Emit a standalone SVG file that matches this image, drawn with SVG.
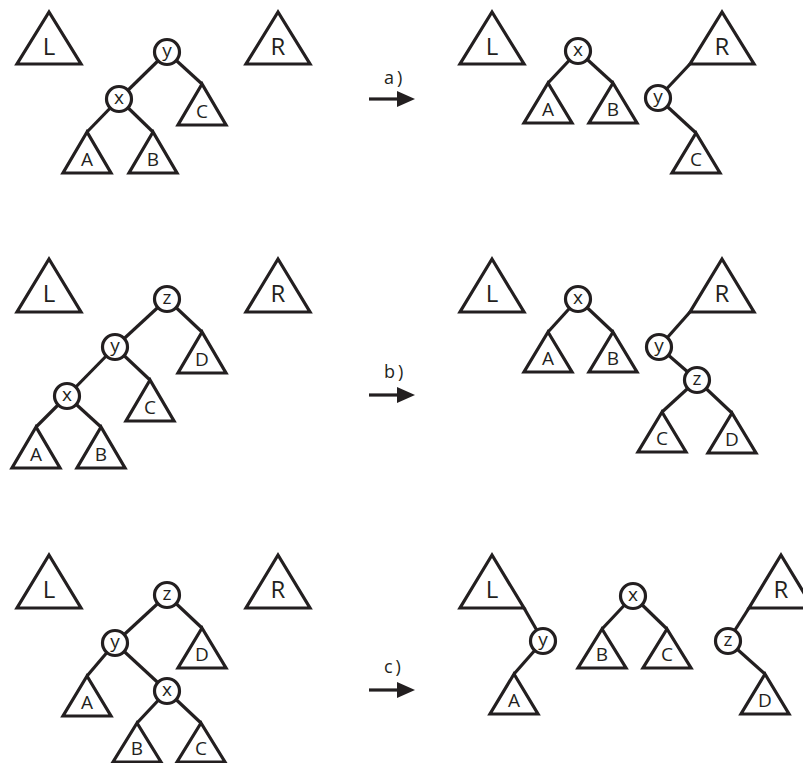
<svg xmlns="http://www.w3.org/2000/svg" width="803" height="763" viewBox="0 0 803 763">
<style>
.tri{fill:#fff;stroke:#231f20;stroke-width:3.2;stroke-linejoin:miter}
.nd{fill:#fff;stroke:#231f20;stroke-width:3.2}
.edges line{stroke:#231f20;stroke-width:3.2}
.arrow line{stroke:#231f20;stroke-width:3.2}
.arrow polygon{fill:#231f20}
text{font-family:"Open Sans","Liberation Sans",sans-serif;fill:#231f20;text-anchor:middle}
.big{font-size:24px}
.sm{font-size:19px}
.lbl{font-size:18px;text-anchor:start;letter-spacing:3px}
</style>
<rect width="803" height="763" fill="#fff"/>
<g id="connectors" class="edges">
<line x1="167" y1="52" x2="119" y2="99"/>
<line x1="167" y1="52" x2="202" y2="84"/>
<line x1="119" y1="99" x2="87" y2="132"/>
<line x1="119" y1="99" x2="153" y2="132"/>
<line x1="578" y1="51" x2="548" y2="83"/>
<line x1="578" y1="51" x2="613" y2="83"/>
<line x1="690" y1="64" x2="658" y2="98"/>
<line x1="658" y1="98" x2="696" y2="133"/>
<line x1="167" y1="299" x2="115" y2="347"/>
<line x1="167" y1="299" x2="202" y2="332"/>
<line x1="115" y1="347" x2="67" y2="396"/>
<line x1="115" y1="347" x2="150" y2="380"/>
<line x1="67" y1="396" x2="36" y2="427"/>
<line x1="67" y1="396" x2="101" y2="427"/>
<line x1="578" y1="299" x2="548" y2="332"/>
<line x1="578" y1="299" x2="613" y2="332"/>
<line x1="690" y1="312" x2="659" y2="347"/>
<line x1="659" y1="347" x2="697" y2="380"/>
<line x1="697" y1="380" x2="662" y2="412"/>
<line x1="697" y1="380" x2="732" y2="413"/>
<line x1="167" y1="595" x2="115" y2="643"/>
<line x1="167" y1="595" x2="202" y2="628"/>
<line x1="115" y1="643" x2="87" y2="676"/>
<line x1="115" y1="643" x2="167" y2="691"/>
<line x1="167" y1="691" x2="137" y2="723"/>
<line x1="167" y1="691" x2="201" y2="723"/>
<line x1="524" y1="608" x2="543" y2="641"/>
<line x1="543" y1="641" x2="514" y2="674"/>
<line x1="633" y1="596" x2="602" y2="629"/>
<line x1="633" y1="596" x2="667" y2="629"/>
<line x1="749" y1="608" x2="728" y2="641"/>
<line x1="728" y1="641" x2="765" y2="674"/>
</g>
<g id="arrows" class="arrow">
<g id="arrow-a"><line x1="369" y1="99" x2="400" y2="99"/><polygon points="397,91 415,99 397,107"/><text class="lbl" x="384" y="84">a)</text></g>
<g id="arrow-b"><line x1="369" y1="395" x2="400" y2="395"/><polygon points="397,387 415,395 397,403"/><text class="lbl" x="384" y="378">b)</text></g>
<g id="arrow-c"><line x1="369" y1="690" x2="400" y2="690"/><polygon points="397,682 415,690 397,698"/><text class="lbl" x="384" y="673">c)</text></g>
</g>
<g id="a-L"><polygon class="tri" points="49,12 17,64 81,64"/><text class="big" x="49" y="55">L</text></g>
<g id="a-R"><polygon class="tri" points="278,12 246,64 310,64"/><text class="big" x="278" y="55">R</text></g>
<g id="a-y"><circle class="nd" cx="167" cy="52" r="12.5"/><text class="sm" x="167" y="57">y</text></g>
<g id="a-x"><circle class="nd" cx="119" cy="99" r="12.5"/><text class="sm" x="119" y="104">x</text></g>
<g id="a-C"><polygon class="tri" points="202,84 178,125 226,125"/><text class="sm" x="202" y="118">C</text></g>
<g id="a-A"><polygon class="tri" points="87,132 63,173 111,173"/><text class="sm" x="87" y="166">A</text></g>
<g id="a-B"><polygon class="tri" points="153,132 129,173 177,173"/><text class="sm" x="153" y="166">B</text></g>
<g id="a2-L"><polygon class="tri" points="492,12 460,64 524,64"/><text class="big" x="492" y="55">L</text></g>
<g id="a2-x"><circle class="nd" cx="578" cy="51" r="12.5"/><text class="sm" x="578" y="56">x</text></g>
<g id="a2-A"><polygon class="tri" points="548,83 524,123 572,123"/><text class="sm" x="548" y="116">A</text></g>
<g id="a2-B"><polygon class="tri" points="613,83 589,123 637,123"/><text class="sm" x="613" y="116">B</text></g>
<g id="a2-R"><polygon class="tri" points="722,12 690,64 754,64"/><text class="big" x="722" y="55">R</text></g>
<g id="a2-y"><circle class="nd" cx="658" cy="98" r="12.5"/><text class="sm" x="658" y="103">y</text></g>
<g id="a2-C"><polygon class="tri" points="696,133 672,173 720,173"/><text class="sm" x="696" y="166">C</text></g>
<g id="b-L"><polygon class="tri" points="49,259 17,312 81,312"/><text class="big" x="49" y="302">L</text></g>
<g id="b-R"><polygon class="tri" points="278,259 246,312 310,312"/><text class="big" x="278" y="302">R</text></g>
<g id="b-z"><circle class="nd" cx="167" cy="299" r="12.5"/><text class="sm" x="167" y="304">z</text></g>
<g id="b-y"><circle class="nd" cx="115" cy="347" r="12.5"/><text class="sm" x="115" y="352">y</text></g>
<g id="b-x"><circle class="nd" cx="67" cy="396" r="12.5"/><text class="sm" x="67" y="401">x</text></g>
<g id="b-D"><polygon class="tri" points="202,332 178,373 226,373"/><text class="sm" x="202" y="366">D</text></g>
<g id="b-C"><polygon class="tri" points="150,380 126,421 174,421"/><text class="sm" x="150" y="414">C</text></g>
<g id="b-A"><polygon class="tri" points="36,427 12,468 60,468"/><text class="sm" x="36" y="461">A</text></g>
<g id="b-B"><polygon class="tri" points="101,427 77,468 125,468"/><text class="sm" x="101" y="461">B</text></g>
<g id="b2-L"><polygon class="tri" points="492,259 460,312 524,312"/><text class="big" x="492" y="302">L</text></g>
<g id="b2-x"><circle class="nd" cx="578" cy="299" r="12.5"/><text class="sm" x="578" y="304">x</text></g>
<g id="b2-A"><polygon class="tri" points="548,332 524,372 572,372"/><text class="sm" x="548" y="365">A</text></g>
<g id="b2-B"><polygon class="tri" points="613,332 589,372 637,372"/><text class="sm" x="613" y="365">B</text></g>
<g id="b2-R"><polygon class="tri" points="722,259 690,312 754,312"/><text class="big" x="722" y="302">R</text></g>
<g id="b2-y"><circle class="nd" cx="659" cy="347" r="12.5"/><text class="sm" x="659" y="352">y</text></g>
<g id="b2-z"><circle class="nd" cx="697" cy="380" r="12.5"/><text class="sm" x="697" y="385">z</text></g>
<g id="b2-C"><polygon class="tri" points="662,412 638,452 686,452"/><text class="sm" x="662" y="445">C</text></g>
<g id="b2-D"><polygon class="tri" points="732,413 708,453 756,453"/><text class="sm" x="732" y="446">D</text></g>
<g id="c-L"><polygon class="tri" points="49,555 17,608 81,608"/><text class="big" x="49" y="598">L</text></g>
<g id="c-R"><polygon class="tri" points="278,555 246,608 310,608"/><text class="big" x="278" y="598">R</text></g>
<g id="c-z"><circle class="nd" cx="167" cy="595" r="12.5"/><text class="sm" x="167" y="600">z</text></g>
<g id="c-y"><circle class="nd" cx="115" cy="643" r="12.5"/><text class="sm" x="115" y="648">y</text></g>
<g id="c-x"><circle class="nd" cx="167" cy="691" r="12.5"/><text class="sm" x="167" y="696">x</text></g>
<g id="c-D"><polygon class="tri" points="202,628 178,668 226,668"/><text class="sm" x="202" y="661">D</text></g>
<g id="c-A"><polygon class="tri" points="87,676 63,716 111,716"/><text class="sm" x="87" y="709">A</text></g>
<g id="c-B"><polygon class="tri" points="137,723 113,762 161,762"/><text class="sm" x="137" y="755">B</text></g>
<g id="c-C"><polygon class="tri" points="201,723 177,762 225,762"/><text class="sm" x="201" y="755">C</text></g>
<g id="c2-L"><polygon class="tri" points="492,555 460,608 524,608"/><text class="big" x="492" y="598">L</text></g>
<g id="c2-y"><circle class="nd" cx="543" cy="641" r="12.5"/><text class="sm" x="543" y="646">y</text></g>
<g id="c2-A"><polygon class="tri" points="514,674 490,714 538,714"/><text class="sm" x="514" y="707">A</text></g>
<g id="c2-x"><circle class="nd" cx="633" cy="596" r="12.5"/><text class="sm" x="633" y="601">x</text></g>
<g id="c2-B"><polygon class="tri" points="602,629 578,668 626,668"/><text class="sm" x="602" y="661">B</text></g>
<g id="c2-C"><polygon class="tri" points="667,629 643,668 691,668"/><text class="sm" x="667" y="661">C</text></g>
<g id="c2-R"><polygon class="tri" points="781,555 749,608 813,608"/><text class="big" x="781" y="598">R</text></g>
<g id="c2-z"><circle class="nd" cx="728" cy="641" r="12.5"/><text class="sm" x="728" y="646">z</text></g>
<g id="c2-D"><polygon class="tri" points="765,674 741,714 789,714"/><text class="sm" x="765" y="707">D</text></g>
</svg>
